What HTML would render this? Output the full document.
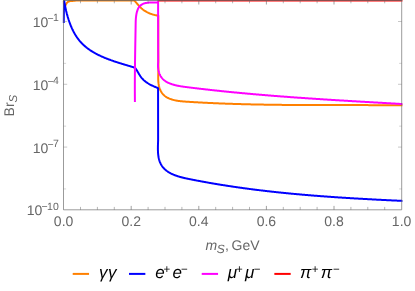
<!DOCTYPE html>
<html><head><meta charset="utf-8"><title>BrS</title>
<style>
html,body{margin:0;padding:0;background:#fff;}
body{width:415px;height:291px;overflow:hidden;}
svg{display:block;will-change:transform;text-rendering:geometricPrecision;font-family:"Liberation Sans",sans-serif;}
</style></head><body>
<svg width="415" height="291" viewBox="0 0 415 291">
<rect width="415" height="291" fill="#fff"/>
<defs><clipPath id="c"><rect x="62.30" y="0" width="340.30" height="209.80"/></clipPath></defs>
<g clip-path="url(#c)">
<path d="M63.60,0.50 L63.66,0.84 L63.70,1.33 L63.74,1.93 L63.78,2.60 L63.83,3.30 L63.89,4.00 L63.98,4.66 L64.09,5.25 L64.23,5.72 L64.41,6.04 L64.64,6.18 L64.91,6.10 L65.19,5.83 L65.45,5.40 L65.71,4.89 L65.96,4.37 L66.23,3.87 L66.52,3.41 L66.83,2.99 L67.15,2.60 L67.50,2.26 L67.88,1.95 L68.29,1.69 L68.72,1.48 L69.19,1.31 L69.68,1.18 L70.20,1.08 L70.73,1.01 L71.28,0.96 L71.84,0.93 L72.40,0.91 L72.96,0.89 L73.51,0.87 L74.05,0.84 L74.57,0.79 L75.08,0.72 L75.55,0.63 L76.00,0.50 L76.00,0.50 L134.40,0.50 L134.40,0.50 L134.73,0.88 L135.05,1.27 L135.38,1.65 L135.71,2.04 L136.04,2.43 L136.37,2.82 L136.70,3.21 L137.03,3.60 L137.36,3.99 L137.70,4.38 L138.04,4.77 L138.38,5.15 L138.72,5.53 L139.07,5.91 L139.42,6.28 L139.77,6.66 L140.13,7.02 L140.50,7.38 L140.86,7.74 L141.24,8.09 L141.61,8.43 L142.00,8.77 L142.39,9.10 L142.78,9.42 L143.18,9.73 L143.59,10.03 L144.00,10.33 L144.42,10.62 L144.85,10.90 L145.28,11.17 L145.71,11.43 L146.15,11.69 L146.59,11.94 L147.04,12.18 L147.50,12.41 L147.96,12.63 L148.42,12.85 L148.89,13.06 L149.36,13.26 L149.83,13.46 L150.31,13.65 L150.79,13.83 L151.27,14.00 L151.76,14.17 L152.25,14.33 L152.74,14.48 L153.24,14.62 L153.74,14.76 L154.24,14.89 L154.74,15.02 L155.24,15.13 L155.75,15.24 L156.26,15.35 L156.77,15.45 L157.28,15.54 L157.79,15.62 L158.30,15.70 L158.30,15.70 L158.30,50.00 L158.45,70.00 L158.45,70.00 L158.43,70.45 L158.41,70.92 L158.39,71.38 L158.37,71.86 L158.35,72.34 L158.33,72.83 L158.31,73.32 L158.29,73.82 L158.27,74.32 L158.25,74.83 L158.23,75.34 L158.22,75.86 L158.21,76.38 L158.20,76.90 L158.20,77.42 L158.20,77.94 L158.21,78.47 L158.22,79.00 L158.23,79.52 L158.25,80.05 L158.27,80.58 L158.30,81.11 L158.34,81.63 L158.39,82.16 L158.44,82.68 L158.50,83.20 L158.56,83.72 L158.64,84.23 L158.72,84.74 L158.81,85.25 L158.91,85.75 L159.02,86.25 L159.15,86.74 L159.28,87.23 L159.42,87.71 L159.57,88.18 L159.74,88.65 L159.91,89.11 L160.10,89.57 L160.29,90.02 L160.50,90.45 L160.72,90.89 L160.95,91.31 L161.19,91.73 L161.44,92.13 L161.70,92.53 L161.97,92.92 L162.25,93.30 L162.54,93.67 L162.85,94.03 L163.16,94.39 L163.49,94.73 L163.82,95.06 L164.17,95.38 L164.52,95.69 L164.89,95.99 L165.27,96.28 L165.65,96.55 L166.05,96.82 L166.45,97.08 L166.87,97.33 L167.29,97.57 L167.72,97.80 L168.15,98.02 L168.59,98.23 L169.04,98.43 L169.50,98.62 L169.96,98.81 L170.42,98.99 L170.89,99.16 L171.37,99.32 L171.85,99.47 L172.33,99.62 L172.81,99.76 L173.30,99.89 L173.79,100.02 L174.29,100.14 L174.78,100.25 L175.28,100.36 L175.77,100.47 L176.27,100.56 L176.77,100.65 L177.27,100.74 L177.76,100.82 L178.26,100.90 L178.76,100.97 L179.26,101.04 L179.76,101.10 L180.26,101.16 L180.76,101.22 L181.26,101.27 L181.76,101.32 L182.26,101.37 L182.77,101.42 L183.27,101.46 L183.77,101.50 L184.27,101.54 L184.77,101.58 L185.28,101.61 L185.78,101.65 L186.28,101.68 L186.78,101.71 L187.28,101.74 L187.79,101.78 L188.29,101.81 L188.79,101.84 L189.29,101.87 L189.80,101.90 L190.30,101.93 L190.80,101.96 L191.30,101.99 L191.80,102.02 L192.31,102.05 L192.81,102.08 L193.31,102.11 L193.81,102.14 L194.32,102.17 L194.82,102.20 L195.32,102.23 L195.82,102.26 L196.32,102.29 L196.83,102.31 L197.33,102.34 L197.83,102.37 L198.33,102.40 L198.83,102.42 L199.34,102.45 L199.84,102.48 L200.34,102.51 L200.84,102.53 L201.34,102.56 L201.84,102.59 L202.35,102.61 L202.85,102.64 L203.35,102.66 L203.85,102.69 L204.35,102.71 L204.86,102.74 L205.36,102.76 L205.86,102.79 L206.36,102.81 L206.86,102.84 L207.36,102.86 L207.87,102.89 L208.37,102.91 L208.87,102.94 L209.37,102.96 L209.87,102.98 L210.37,103.01 L210.88,103.03 L211.38,103.05 L211.88,103.07 L212.38,103.10 L212.88,103.12 L213.38,103.14 L213.88,103.16 L214.39,103.19 L214.89,103.21 L215.39,103.23 L215.89,103.25 L216.39,103.27 L216.89,103.29 L217.39,103.31 L217.90,103.33 L218.40,103.36 L218.90,103.38 L219.40,103.40 L219.90,103.42 L220.40,103.44 L220.90,103.46 L221.41,103.48 L221.91,103.50 L222.41,103.51 L222.91,103.53 L223.41,103.55 L223.91,103.57 L224.41,103.59 L224.91,103.61 L225.42,103.63 L225.92,103.65 L226.42,103.66 L226.92,103.68 L227.42,103.70 L227.92,103.72 L228.42,103.73 L228.92,103.75 L229.42,103.77 L229.93,103.79 L230.43,103.80 L230.93,103.82 L231.43,103.84 L231.93,103.85 L232.43,103.87 L232.93,103.89 L233.43,103.90 L233.93,103.92 L234.44,103.93 L234.94,103.95 L235.44,103.96 L235.94,103.98 L236.44,103.99 L236.94,104.01 L237.44,104.02 L237.94,104.04 L238.44,104.05 L238.94,104.07 L239.45,104.08 L239.95,104.10 L240.45,104.11 L240.95,104.12 L241.45,104.14 L241.95,104.15 L242.45,104.17 L242.95,104.18 L243.45,104.19 L243.95,104.21 L244.45,104.22 L244.95,104.23 L245.46,104.24 L245.96,104.26 L246.46,104.27 L246.96,104.28 L247.46,104.29 L247.96,104.31 L248.46,104.32 L248.96,104.33 L249.46,104.34 L249.96,104.35 L250.46,104.37 L250.96,104.38 L251.46,104.39 L251.97,104.40 L252.47,104.41 L252.97,104.42 L253.47,104.43 L253.97,104.44 L254.47,104.45 L254.97,104.46 L255.47,104.47 L255.97,104.48 L256.47,104.49 L256.97,104.50 L257.47,104.51 L257.97,104.52 L258.47,104.53 L258.98,104.54 L259.48,104.55 L259.98,104.56 L260.48,104.57 L260.98,104.58 L261.48,104.59 L261.98,104.60 L262.48,104.61 L262.98,104.62 L263.48,104.62 L263.98,104.63 L264.48,104.64 L264.98,104.65 L265.48,104.66 L265.98,104.67 L266.48,104.67 L266.98,104.68 L267.48,104.69 L267.99,104.70 L268.49,104.71 L268.99,104.71 L269.49,104.72 L269.99,104.73 L270.49,104.73 L270.99,104.74 L271.49,104.75 L271.99,104.76 L272.49,104.76 L272.99,104.77 L273.49,104.78 L273.99,104.78 L274.49,104.79 L274.99,104.80 L275.49,104.80 L275.99,104.81 L276.49,104.81 L276.99,104.82 L277.49,104.83 L278.00,104.83 L278.50,104.84 L279.00,104.84 L279.50,104.85 L280.00,104.85 L280.50,104.86 L281.00,104.87 L281.50,104.87 L282.00,104.88 L282.50,104.88 L283.00,104.89 L283.50,104.89 L284.00,104.90 L284.50,104.90 L285.00,104.90 L285.50,104.91 L286.00,104.91 L286.50,104.92 L287.00,104.92 L287.50,104.93 L288.00,104.93 L288.50,104.94 L289.00,104.94 L289.50,104.94 L290.01,104.95 L290.51,104.95 L291.01,104.96 L291.51,104.96 L292.01,104.96 L292.51,104.97 L293.01,104.97 L293.51,104.97 L294.01,104.98 L294.51,104.98 L295.01,104.98 L295.51,104.99 L296.01,104.99 L296.51,104.99 L297.01,105.00 L297.51,105.00 L298.01,105.00 L298.51,105.01 L299.01,105.01 L299.51,105.01 L300.01,105.01 L300.51,105.02 L301.01,105.02 L301.51,105.02 L302.01,105.02 L302.51,105.03 L303.01,105.03 L303.52,105.03 L304.02,105.03 L304.52,105.04 L305.02,105.04 L305.52,105.04 L306.02,105.04 L306.52,105.04 L307.02,105.05 L307.52,105.05 L308.02,105.05 L308.52,105.05 L309.02,105.05 L309.52,105.06 L310.02,105.06 L310.52,105.06 L311.02,105.06 L311.52,105.06 L312.02,105.06 L312.52,105.06 L313.02,105.07 L313.52,105.07 L314.02,105.07 L314.52,105.07 L315.02,105.07 L315.52,105.07 L316.03,105.07 L316.53,105.08 L317.03,105.08 L317.53,105.08 L318.03,105.08 L318.53,105.08 L319.03,105.08 L319.53,105.08 L320.03,105.08 L320.53,105.08 L321.03,105.08 L321.53,105.09 L322.03,105.09 L322.53,105.09 L323.03,105.09 L323.53,105.09 L324.03,105.09 L324.53,105.09 L325.03,105.09 L325.53,105.09 L326.03,105.09 L326.53,105.09 L327.03,105.09 L327.54,105.09 L328.04,105.09 L328.54,105.09 L329.04,105.09 L329.54,105.10 L330.04,105.10 L330.54,105.10 L331.04,105.10 L331.54,105.10 L332.04,105.10 L332.54,105.10 L333.04,105.10 L333.54,105.10 L334.04,105.10 L334.54,105.10 L335.04,105.10 L335.54,105.10 L336.04,105.10 L336.55,105.10 L337.05,105.10 L337.55,105.10 L338.05,105.10 L338.55,105.10 L339.05,105.10 L339.55,105.10 L340.05,105.10 L340.55,105.10 L341.05,105.10 L341.55,105.10 L342.05,105.10 L342.55,105.10 L343.05,105.10 L343.55,105.10 L344.05,105.10 L344.56,105.10 L345.06,105.10 L345.56,105.10 L346.06,105.10 L346.56,105.10 L347.06,105.10 L347.56,105.10 L348.06,105.11 L348.56,105.11 L349.06,105.11 L349.56,105.11 L350.06,105.11 L350.56,105.11 L351.06,105.11 L351.57,105.11 L352.07,105.11 L352.57,105.11 L353.07,105.11 L353.57,105.11 L354.07,105.11 L354.57,105.11 L355.07,105.11 L355.57,105.11 L356.07,105.11 L356.57,105.11 L357.07,105.11 L357.58,105.11 L358.08,105.11 L358.58,105.11 L359.08,105.11 L359.58,105.11 L360.08,105.11 L360.58,105.11 L361.08,105.11 L361.58,105.12 L362.08,105.12 L362.58,105.12 L363.09,105.12 L363.59,105.12 L364.09,105.12 L364.59,105.12 L365.09,105.12 L365.59,105.12 L366.09,105.12 L366.59,105.12 L367.09,105.12 L367.59,105.12 L368.10,105.12 L368.60,105.13 L369.10,105.13 L369.60,105.13 L370.10,105.13 L370.60,105.13 L371.10,105.13 L371.60,105.13 L372.11,105.13 L372.61,105.13 L373.11,105.14 L373.61,105.14 L374.11,105.14 L374.61,105.14 L375.11,105.14 L375.61,105.14 L376.11,105.14 L376.62,105.15 L377.12,105.15 L377.62,105.15 L378.12,105.15 L378.62,105.15 L379.12,105.15 L379.62,105.16 L380.13,105.16 L380.63,105.16 L381.13,105.16 L381.63,105.16 L382.13,105.17 L382.63,105.17 L383.13,105.17 L383.64,105.17 L384.14,105.17 L384.64,105.18 L385.14,105.18 L385.64,105.18 L386.14,105.18 L386.64,105.19 L387.15,105.19 L387.65,105.19 L388.15,105.19 L388.65,105.20 L389.15,105.20 L389.65,105.20 L390.16,105.21 L390.66,105.21 L391.16,105.21 L391.66,105.22 L392.16,105.22 L392.66,105.22 L393.17,105.22 L393.67,105.23 L394.17,105.23 L394.67,105.24 L395.17,105.24 L395.67,105.24 L396.18,105.25 L396.68,105.25 L397.18,105.25 L397.68,105.26 L398.18,105.26 L398.68,105.27 L399.19,105.27 L399.69,105.27 L400.19,105.28 L400.69,105.28 L401.19,105.29 L401.70,105.29 L402.20,105.30 L402.70,105.30" fill="none" stroke="#ff8000" stroke-width="2" stroke-linejoin="round" stroke-linecap="butt"/>
<path d="M63.75,22.90 L63.95,3.00 L64.20,0.90 L64.20,0.90 L64.28,1.38 L64.36,1.86 L64.44,2.34 L64.53,2.82 L64.61,3.30 L64.70,3.79 L64.79,4.27 L64.88,4.76 L64.97,5.25 L65.06,5.73 L65.16,6.22 L65.26,6.71 L65.36,7.21 L65.46,7.70 L65.56,8.19 L65.67,8.68 L65.78,9.18 L65.89,9.67 L66.00,10.16 L66.11,10.66 L66.23,11.15 L66.35,11.65 L66.47,12.14 L66.59,12.64 L66.71,13.14 L66.84,13.63 L66.97,14.13 L67.10,14.62 L67.24,15.12 L67.37,15.61 L67.51,16.10 L67.65,16.60 L67.80,17.09 L67.94,17.58 L68.09,18.08 L68.24,18.57 L68.40,19.06 L68.56,19.55 L68.71,20.04 L68.88,20.53 L69.04,21.01 L69.21,21.50 L69.38,21.99 L69.55,22.47 L69.73,22.95 L69.91,23.43 L70.09,23.91 L70.27,24.39 L70.46,24.87 L70.65,25.35 L70.84,25.82 L71.04,26.29 L71.24,26.76 L71.44,27.23 L71.64,27.70 L71.85,28.16 L72.06,28.63 L72.28,29.09 L72.49,29.55 L72.72,30.00 L72.94,30.46 L73.17,30.91 L73.40,31.36 L73.63,31.81 L73.87,32.25 L74.11,32.69 L74.35,33.13 L74.60,33.57 L74.85,34.01 L75.11,34.44 L75.36,34.87 L75.63,35.29 L75.89,35.71 L76.16,36.13 L76.43,36.55 L76.71,36.96 L76.99,37.37 L77.27,37.78 L77.56,38.18 L77.85,38.58 L78.14,38.98 L78.44,39.37 L78.74,39.76 L79.05,40.15 L79.36,40.53 L79.67,40.91 L79.99,41.28 L80.31,41.65 L80.64,42.02 L80.97,42.38 L81.30,42.74 L81.64,43.10 L81.98,43.45 L82.32,43.80 L82.67,44.14 L83.02,44.48 L83.38,44.82 L83.74,45.15 L84.10,45.48 L84.47,45.81 L84.84,46.13 L85.21,46.45 L85.58,46.76 L85.96,47.08 L86.35,47.38 L86.73,47.69 L87.12,47.99 L87.51,48.29 L87.90,48.59 L88.30,48.88 L88.70,49.17 L89.11,49.45 L89.51,49.74 L89.92,50.02 L90.33,50.29 L90.75,50.57 L91.16,50.84 L91.58,51.11 L92.00,51.37 L92.43,51.64 L92.85,51.90 L93.28,52.15 L93.71,52.41 L94.15,52.66 L94.58,52.91 L95.02,53.15 L95.46,53.39 L95.90,53.64 L96.35,53.87 L96.80,54.11 L97.24,54.34 L97.69,54.57 L98.15,54.80 L98.60,55.03 L99.06,55.25 L99.51,55.47 L99.97,55.69 L100.43,55.91 L100.90,56.12 L101.36,56.33 L101.83,56.54 L102.29,56.75 L102.76,56.96 L103.23,57.16 L103.70,57.36 L104.17,57.56 L104.65,57.76 L105.12,57.96 L105.60,58.15 L106.08,58.34 L106.55,58.53 L107.03,58.72 L107.51,58.91 L107.99,59.09 L108.47,59.27 L108.96,59.46 L109.44,59.64 L109.92,59.81 L110.41,59.99 L110.89,60.17 L111.38,60.34 L111.87,60.51 L112.35,60.68 L112.84,60.85 L113.33,61.02 L113.81,61.19 L114.30,61.35 L114.79,61.52 L115.28,61.68 L115.77,61.84 L116.26,62.00 L116.75,62.16 L117.23,62.32 L117.72,62.47 L118.21,62.63 L118.70,62.79 L119.19,62.94 L119.68,63.09 L120.17,63.25 L120.65,63.40 L121.14,63.55 L121.63,63.70 L122.11,63.85 L122.60,63.99 L123.08,64.14 L123.57,64.29 L124.05,64.44 L124.54,64.58 L125.02,64.73 L125.50,64.87 L125.98,65.01 L126.46,65.16 L126.94,65.30 L127.42,65.44 L127.90,65.59 L128.37,65.73 L128.85,65.87 L129.32,66.01 L129.79,66.15 L130.27,66.29 L130.74,66.43 L131.20,66.58 L131.67,66.72 L132.14,66.86 L132.60,67.00 L133.06,67.14 L133.53,67.28 L133.99,67.42 L134.44,67.56 L134.90,67.70 L134.90,67.70 L135.23,68.09 L135.54,68.48 L135.84,68.89 L136.13,69.30 L136.42,69.73 L136.69,70.15 L136.96,70.59 L137.23,71.03 L137.49,71.47 L137.75,71.91 L138.01,72.36 L138.27,72.80 L138.54,73.25 L138.80,73.69 L139.07,74.14 L139.34,74.58 L139.61,75.01 L139.89,75.45 L140.17,75.87 L140.46,76.30 L140.76,76.72 L141.06,77.13 L141.37,77.53 L141.69,77.93 L142.02,78.32 L142.36,78.70 L142.70,79.07 L143.06,79.43 L143.42,79.79 L143.79,80.14 L144.17,80.48 L144.56,80.81 L144.95,81.14 L145.35,81.46 L145.75,81.77 L146.17,82.08 L146.58,82.37 L147.01,82.67 L147.44,82.95 L147.87,83.23 L148.31,83.50 L148.75,83.77 L149.20,84.03 L149.65,84.29 L150.10,84.54 L150.56,84.78 L151.02,85.02 L151.48,85.26 L151.95,85.49 L152.41,85.71 L152.88,85.93 L153.35,86.15 L153.82,86.36 L154.30,86.57 L154.77,86.77 L155.24,86.97 L155.72,87.17 L156.19,87.36 L156.66,87.55 L157.13,87.74 L157.60,87.92 L158.07,88.10 L158.07,88.10 L158.12,140.00 L158.12,140.00 L158.11,140.46 L158.10,140.92 L158.08,141.39 L158.07,141.87 L158.05,142.35 L158.03,142.83 L158.02,143.32 L158.00,143.82 L157.98,144.31 L157.97,144.82 L157.95,145.32 L157.94,145.83 L157.93,146.34 L157.92,146.86 L157.92,147.37 L157.91,147.89 L157.91,148.41 L157.91,148.94 L157.91,149.46 L157.92,149.98 L157.94,150.51 L157.95,151.03 L157.97,151.56 L158.00,152.08 L158.03,152.61 L158.06,153.13 L158.10,153.65 L158.15,154.17 L158.20,154.69 L158.26,155.21 L158.33,155.72 L158.40,156.23 L158.48,156.74 L158.57,157.25 L158.67,157.75 L158.77,158.25 L158.88,158.74 L159.00,159.23 L159.13,159.72 L159.27,160.20 L159.42,160.67 L159.58,161.14 L159.74,161.61 L159.92,162.06 L160.10,162.52 L160.30,162.96 L160.50,163.40 L160.72,163.84 L160.94,164.26 L161.17,164.69 L161.42,165.10 L161.67,165.51 L161.93,165.91 L162.20,166.30 L162.48,166.68 L162.78,167.06 L163.08,167.43 L163.39,167.79 L163.71,168.14 L164.04,168.49 L164.37,168.83 L164.72,169.16 L165.07,169.49 L165.44,169.80 L165.80,170.12 L166.18,170.42 L166.56,170.72 L166.96,171.01 L167.35,171.29 L167.76,171.57 L168.16,171.84 L168.58,172.11 L169.00,172.36 L169.43,172.62 L169.86,172.86 L170.29,173.10 L170.73,173.34 L171.18,173.57 L171.62,173.79 L172.07,174.01 L172.53,174.22 L172.99,174.43 L173.45,174.63 L173.91,174.82 L174.38,175.01 L174.85,175.20 L175.32,175.38 L175.79,175.55 L176.26,175.72 L176.74,175.89 L177.21,176.05 L177.69,176.21 L178.17,176.36 L178.65,176.51 L179.13,176.66 L179.61,176.80 L180.10,176.94 L180.58,177.07 L181.07,177.20 L181.55,177.33 L182.04,177.46 L182.53,177.58 L183.02,177.70 L183.51,177.81 L184.00,177.93 L184.49,178.04 L184.98,178.15 L185.47,178.26 L185.96,178.37 L186.46,178.48 L186.95,178.58 L187.45,178.68 L187.94,178.78 L188.43,178.89 L188.93,178.99 L189.42,179.09 L189.92,179.18 L190.41,179.28 L190.91,179.38 L191.40,179.48 L191.90,179.58 L192.39,179.68 L192.89,179.77 L193.38,179.87 L193.88,179.97 L194.37,180.06 L194.86,180.16 L195.36,180.25 L195.85,180.35 L196.35,180.44 L196.84,180.54 L197.34,180.63 L197.83,180.73 L198.33,180.82 L198.82,180.91 L199.32,181.01 L199.81,181.10 L200.31,181.19 L200.80,181.28 L201.30,181.38 L201.79,181.47 L202.29,181.56 L202.79,181.65 L203.28,181.74 L203.78,181.83 L204.27,181.92 L204.77,182.01 L205.26,182.10 L205.76,182.19 L206.25,182.28 L206.75,182.37 L207.24,182.46 L207.74,182.54 L208.23,182.63 L208.73,182.72 L209.22,182.81 L209.72,182.89 L210.21,182.98 L210.71,183.06 L211.21,183.15 L211.70,183.24 L212.20,183.32 L212.69,183.41 L213.19,183.49 L213.68,183.58 L214.18,183.66 L214.67,183.74 L215.17,183.83 L215.67,183.91 L216.16,183.99 L216.66,184.08 L217.15,184.16 L217.65,184.24 L218.14,184.32 L218.64,184.40 L219.14,184.49 L219.63,184.57 L220.13,184.65 L220.62,184.73 L221.12,184.81 L221.61,184.89 L222.11,184.97 L222.61,185.05 L223.10,185.13 L223.60,185.20 L224.09,185.28 L224.59,185.36 L225.09,185.44 L225.58,185.52 L226.08,185.59 L226.57,185.67 L227.07,185.75 L227.57,185.82 L228.06,185.90 L228.56,185.98 L229.05,186.05 L229.55,186.13 L230.05,186.20 L230.54,186.28 L231.04,186.35 L231.53,186.43 L232.03,186.50 L232.53,186.58 L233.02,186.65 L233.52,186.72 L234.02,186.80 L234.51,186.87 L235.01,186.94 L235.50,187.01 L236.00,187.09 L236.50,187.16 L236.99,187.23 L237.49,187.30 L237.99,187.37 L238.48,187.44 L238.98,187.51 L239.48,187.58 L239.97,187.65 L240.47,187.72 L240.97,187.79 L241.46,187.86 L241.96,187.93 L242.46,188.00 L242.95,188.07 L243.45,188.14 L243.95,188.20 L244.44,188.27 L244.94,188.34 L245.44,188.41 L245.93,188.47 L246.43,188.54 L246.93,188.61 L247.42,188.67 L247.92,188.74 L248.42,188.81 L248.91,188.87 L249.41,188.94 L249.91,189.00 L250.40,189.07 L250.90,189.13 L251.40,189.20 L251.89,189.26 L252.39,189.32 L252.89,189.39 L253.38,189.45 L253.88,189.51 L254.38,189.58 L254.88,189.64 L255.37,189.70 L255.87,189.76 L256.37,189.83 L256.86,189.89 L257.36,189.95 L257.86,190.01 L258.35,190.07 L258.85,190.13 L259.35,190.19 L259.85,190.25 L260.34,190.32 L260.84,190.38 L261.34,190.43 L261.84,190.49 L262.33,190.55 L262.83,190.61 L263.33,190.67 L263.82,190.73 L264.32,190.79 L264.82,190.85 L265.32,190.91 L265.81,190.96 L266.31,191.02 L266.81,191.08 L267.31,191.13 L267.80,191.19 L268.30,191.25 L268.80,191.30 L269.30,191.36 L269.79,191.42 L270.29,191.47 L270.79,191.53 L271.29,191.58 L271.78,191.64 L272.28,191.69 L272.78,191.75 L273.28,191.80 L273.77,191.86 L274.27,191.91 L274.77,191.97 L275.27,192.02 L275.77,192.07 L276.26,192.13 L276.76,192.18 L277.26,192.23 L277.76,192.29 L278.25,192.34 L278.75,192.39 L279.25,192.44 L279.75,192.49 L280.25,192.55 L280.74,192.60 L281.24,192.65 L281.74,192.70 L282.24,192.75 L282.73,192.80 L283.23,192.85 L283.73,192.90 L284.23,192.95 L284.73,193.00 L285.22,193.05 L285.72,193.10 L286.22,193.15 L286.72,193.20 L287.22,193.25 L287.72,193.30 L288.21,193.35 L288.71,193.40 L289.21,193.44 L289.71,193.49 L290.21,193.54 L290.70,193.59 L291.20,193.64 L291.70,193.68 L292.20,193.73 L292.70,193.78 L293.20,193.82 L293.69,193.87 L294.19,193.92 L294.69,193.96 L295.19,194.01 L295.69,194.05 L296.19,194.10 L296.68,194.15 L297.18,194.19 L297.68,194.24 L298.18,194.28 L298.68,194.33 L299.18,194.37 L299.68,194.42 L300.17,194.46 L300.67,194.50 L301.17,194.55 L301.67,194.59 L302.17,194.64 L302.67,194.68 L303.17,194.72 L303.66,194.77 L304.16,194.81 L304.66,194.85 L305.16,194.89 L305.66,194.94 L306.16,194.98 L306.66,195.02 L307.15,195.06 L307.65,195.10 L308.15,195.15 L308.65,195.19 L309.15,195.23 L309.65,195.27 L310.15,195.31 L310.65,195.35 L311.15,195.39 L311.64,195.43 L312.14,195.47 L312.64,195.51 L313.14,195.55 L313.64,195.59 L314.14,195.63 L314.64,195.67 L315.14,195.71 L315.64,195.75 L316.14,195.79 L316.63,195.83 L317.13,195.87 L317.63,195.91 L318.13,195.95 L318.63,195.99 L319.13,196.02 L319.63,196.06 L320.13,196.10 L320.63,196.14 L321.13,196.18 L321.63,196.21 L322.13,196.25 L322.62,196.29 L323.12,196.32 L323.62,196.36 L324.12,196.40 L324.62,196.44 L325.12,196.47 L325.62,196.51 L326.12,196.54 L326.62,196.58 L327.12,196.62 L327.62,196.65 L328.12,196.69 L328.62,196.72 L329.12,196.76 L329.62,196.80 L330.11,196.83 L330.61,196.87 L331.11,196.90 L331.61,196.94 L332.11,196.97 L332.61,197.00 L333.11,197.04 L333.61,197.07 L334.11,197.11 L334.61,197.14 L335.11,197.18 L335.61,197.21 L336.11,197.24 L336.61,197.28 L337.11,197.31 L337.61,197.34 L338.11,197.38 L338.61,197.41 L339.11,197.44 L339.61,197.48 L340.11,197.51 L340.61,197.54 L341.11,197.57 L341.61,197.61 L342.11,197.64 L342.61,197.67 L343.11,197.70 L343.61,197.73 L344.11,197.77 L344.61,197.80 L345.11,197.83 L345.61,197.86 L346.11,197.89 L346.61,197.92 L347.11,197.96 L347.61,197.99 L348.11,198.02 L348.61,198.05 L349.11,198.08 L349.61,198.11 L350.11,198.14 L350.61,198.17 L351.11,198.20 L351.61,198.23 L352.11,198.26 L352.61,198.29 L353.11,198.32 L353.61,198.35 L354.11,198.38 L354.61,198.41 L355.11,198.44 L355.61,198.47 L356.11,198.50 L356.61,198.53 L357.11,198.56 L357.61,198.59 L358.11,198.62 L358.61,198.64 L359.11,198.67 L359.61,198.70 L360.11,198.73 L360.61,198.76 L361.11,198.79 L361.61,198.82 L362.11,198.84 L362.61,198.87 L363.11,198.90 L363.62,198.93 L364.12,198.96 L364.62,198.98 L365.12,199.01 L365.62,199.04 L366.12,199.07 L366.62,199.09 L367.12,199.12 L367.62,199.15 L368.12,199.18 L368.62,199.20 L369.12,199.23 L369.62,199.26 L370.12,199.28 L370.62,199.31 L371.12,199.34 L371.63,199.36 L372.13,199.39 L372.63,199.42 L373.13,199.44 L373.63,199.47 L374.13,199.50 L374.63,199.52 L375.13,199.55 L375.63,199.58 L376.13,199.60 L376.63,199.63 L377.13,199.65 L377.64,199.68 L378.14,199.70 L378.64,199.73 L379.14,199.76 L379.64,199.78 L380.14,199.81 L380.64,199.83 L381.14,199.86 L381.64,199.88 L382.14,199.91 L382.65,199.93 L383.15,199.96 L383.65,199.98 L384.15,200.01 L384.65,200.03 L385.15,200.06 L385.65,200.08 L386.15,200.11 L386.65,200.13 L387.16,200.16 L387.66,200.18 L388.16,200.21 L388.66,200.23 L389.16,200.26 L389.66,200.28 L390.16,200.30 L390.66,200.33 L391.17,200.35 L391.67,200.38 L392.17,200.40 L392.67,200.43 L393.17,200.45 L393.67,200.47 L394.17,200.50 L394.68,200.52 L395.18,200.55 L395.68,200.57 L396.18,200.59 L396.68,200.62 L397.18,200.64 L397.68,200.67 L398.19,200.69 L398.69,200.71 L399.19,200.74 L399.69,200.76 L400.19,200.78 L400.69,200.81 L401.20,200.83 L401.70,200.85 L402.20,200.88 L402.70,200.90" fill="none" stroke="#0000ff" stroke-width="2" stroke-linejoin="round" stroke-linecap="butt"/>
<path d="M134.92,101.90 L134.91,101.39 L134.91,100.89 L134.90,100.38 L134.90,99.88 L134.89,99.37 L134.89,98.87 L134.88,98.36 L134.88,97.86 L134.88,97.35 L134.87,96.85 L134.87,96.34 L134.86,95.84 L134.86,95.33 L134.86,94.83 L134.86,94.33 L134.85,93.82 L134.85,93.32 L134.85,92.81 L134.85,92.31 L134.84,91.80 L134.84,91.30 L134.84,90.80 L134.84,90.29 L134.84,89.79 L134.84,89.29 L134.84,88.78 L134.84,88.28 L134.84,87.77 L134.84,87.27 L134.84,86.77 L134.84,86.26 L134.84,85.76 L134.84,85.26 L134.84,84.75 L134.84,84.25 L134.84,83.75 L134.84,83.24 L134.84,82.74 L134.85,82.24 L134.85,81.73 L134.85,81.23 L134.85,80.73 L134.85,80.23 L134.86,79.72 L134.86,79.22 L134.86,78.72 L134.86,78.21 L134.87,77.71 L134.87,77.21 L134.87,76.71 L134.88,76.20 L134.88,75.70 L134.88,75.20 L134.89,74.69 L134.89,74.19 L134.90,73.69 L134.90,73.19 L134.90,72.68 L134.91,72.18 L134.91,71.68 L134.92,71.18 L134.92,70.67 L134.93,70.17 L134.93,69.67 L134.94,69.17 L134.94,68.66 L134.95,68.16 L134.95,67.66 L134.96,67.16 L134.96,66.66 L134.97,66.15 L134.98,65.65 L134.98,65.15 L134.99,64.65 L134.99,64.14 L135.00,63.64 L135.01,63.14 L135.01,62.64 L135.02,62.13 L135.03,61.63 L135.03,61.13 L135.04,60.63 L135.05,60.12 L135.05,59.62 L135.06,59.12 L135.07,58.62 L135.08,58.11 L135.08,57.61 L135.09,57.11 L135.10,56.61 L135.11,56.10 L135.11,55.60 L135.12,55.10 L135.13,54.59 L135.14,54.09 L135.15,53.59 L135.15,53.09 L135.16,52.58 L135.17,52.08 L135.18,51.58 L135.19,51.08 L135.19,50.57 L135.20,50.07 L135.21,49.57 L135.22,49.06 L135.23,48.56 L135.24,48.06 L135.24,47.55 L135.25,47.05 L135.26,46.55 L135.27,46.04 L135.28,45.54 L135.29,45.04 L135.30,44.53 L135.30,44.03 L135.31,43.53 L135.32,43.02 L135.33,42.52 L135.34,42.02 L135.35,41.51 L135.36,41.01 L135.37,40.50 L135.38,40.00 L135.38,39.50 L135.39,38.99 L135.40,38.49 L135.41,37.98 L135.42,37.48 L135.43,36.98 L135.44,36.47 L135.45,35.97 L135.46,35.46 L135.46,34.96 L135.47,34.45 L135.48,33.95 L135.49,33.44 L135.50,32.94 L135.51,32.43 L135.52,31.93 L135.53,31.42 L135.54,30.92 L135.54,30.41 L135.55,29.91 L135.56,29.40 L135.57,28.90 L135.58,28.39 L135.59,27.88 L135.60,27.38 L135.61,26.87 L135.61,26.37 L135.62,25.86 L135.63,25.35 L135.64,24.85 L135.65,24.34 L135.66,23.84 L135.67,23.33 L135.68,22.82 L135.69,22.32 L135.70,21.81 L135.72,21.31 L135.74,20.80 L135.76,20.29 L135.79,19.79 L135.82,19.29 L135.85,18.78 L135.89,18.28 L135.93,17.78 L135.98,17.28 L136.04,16.78 L136.10,16.28 L136.16,15.78 L136.24,15.28 L136.32,14.79 L136.40,14.29 L136.50,13.80 L136.60,13.30 L136.71,12.81 L136.84,12.32 L136.97,11.83 L137.11,11.34 L137.26,10.86 L137.42,10.38 L137.59,9.90 L137.78,9.43 L137.98,8.97 L138.19,8.52 L138.42,8.08 L138.67,7.65 L138.94,7.23 L139.22,6.83 L139.52,6.45 L139.84,6.09 L140.19,5.75 L140.55,5.42 L140.92,5.12 L141.32,4.83 L141.73,4.56 L142.15,4.31 L142.58,4.08 L143.03,3.87 L143.49,3.68 L143.96,3.50 L144.44,3.35 L144.92,3.21 L145.41,3.08 L145.91,2.98 L146.41,2.89 L146.92,2.81 L147.43,2.74 L147.95,2.69 L148.47,2.64 L148.99,2.61 L149.52,2.58 L150.04,2.56 L150.57,2.55 L151.09,2.54 L151.62,2.53 L152.14,2.53 L152.66,2.53 L153.18,2.53 L153.69,2.52 L154.20,2.52 L154.71,2.51 L155.21,2.50 L155.71,2.49 L156.20,2.47 L156.68,2.44 L157.16,2.40 L157.63,2.36 L158.10,2.30 L158.10,1.00 L158.15,40.00 L158.20,62.00 L158.20,62.00 L158.14,62.51 L158.09,63.02 L158.05,63.53 L158.03,64.05 L158.01,64.56 L158.00,65.08 L158.00,65.60 L158.01,66.12 L158.03,66.64 L158.06,67.15 L158.10,67.67 L158.15,68.18 L158.22,68.70 L158.29,69.21 L158.37,69.71 L158.47,70.22 L158.57,70.72 L158.69,71.21 L158.82,71.70 L158.96,72.19 L159.11,72.67 L159.27,73.14 L159.44,73.61 L159.62,74.07 L159.82,74.53 L160.03,74.97 L160.25,75.41 L160.48,75.84 L160.72,76.26 L160.97,76.67 L161.24,77.07 L161.52,77.46 L161.81,77.84 L162.11,78.21 L162.42,78.57 L162.75,78.92 L163.08,79.25 L163.43,79.58 L163.79,79.89 L164.15,80.20 L164.53,80.49 L164.92,80.78 L165.31,81.06 L165.71,81.32 L166.12,81.58 L166.54,81.83 L166.96,82.07 L167.40,82.31 L167.83,82.53 L168.27,82.75 L168.72,82.96 L169.18,83.16 L169.63,83.35 L170.09,83.54 L170.56,83.72 L171.03,83.90 L171.50,84.06 L171.97,84.23 L172.45,84.38 L172.93,84.53 L173.41,84.68 L173.89,84.81 L174.37,84.95 L174.85,85.08 L175.34,85.20 L175.83,85.32 L176.31,85.43 L176.80,85.54 L177.29,85.65 L177.78,85.75 L178.27,85.85 L178.76,85.95 L179.26,86.04 L179.75,86.13 L180.24,86.21 L180.74,86.29 L181.24,86.37 L181.73,86.45 L182.23,86.53 L182.73,86.60 L183.23,86.67 L183.72,86.74 L184.22,86.81 L184.72,86.88 L185.22,86.94 L185.72,87.01 L186.22,87.07 L186.72,87.13 L187.22,87.20 L187.72,87.26 L188.22,87.32 L188.72,87.38 L189.22,87.45 L189.72,87.51 L190.22,87.57 L190.72,87.63 L191.22,87.69 L191.72,87.75 L192.22,87.81 L192.72,87.87 L193.22,87.93 L193.72,88.00 L194.22,88.06 L194.72,88.12 L195.22,88.18 L195.72,88.24 L196.22,88.29 L196.72,88.35 L197.22,88.41 L197.72,88.47 L198.22,88.53 L198.72,88.59 L199.22,88.65 L199.72,88.71 L200.22,88.77 L200.72,88.82 L201.22,88.88 L201.72,88.94 L202.22,89.00 L202.72,89.06 L203.21,89.11 L203.71,89.17 L204.21,89.23 L204.71,89.28 L205.21,89.34 L205.71,89.40 L206.21,89.45 L206.71,89.51 L207.21,89.57 L207.71,89.62 L208.21,89.68 L208.71,89.73 L209.21,89.79 L209.71,89.84 L210.21,89.90 L210.71,89.95 L211.21,90.01 L211.71,90.06 L212.21,90.12 L212.71,90.17 L213.21,90.23 L213.71,90.28 L214.21,90.34 L214.71,90.39 L215.21,90.44 L215.71,90.50 L216.21,90.55 L216.71,90.60 L217.21,90.66 L217.70,90.71 L218.20,90.76 L218.70,90.82 L219.20,90.87 L219.70,90.92 L220.20,90.97 L220.70,91.03 L221.20,91.08 L221.70,91.13 L222.20,91.18 L222.70,91.23 L223.20,91.28 L223.70,91.34 L224.20,91.39 L224.70,91.44 L225.20,91.49 L225.70,91.54 L226.20,91.59 L226.70,91.64 L227.20,91.69 L227.70,91.74 L228.20,91.79 L228.69,91.84 L229.19,91.89 L229.69,91.94 L230.19,91.99 L230.69,92.04 L231.19,92.09 L231.69,92.14 L232.19,92.19 L232.69,92.24 L233.19,92.28 L233.69,92.33 L234.19,92.38 L234.69,92.43 L235.19,92.48 L235.69,92.53 L236.19,92.57 L236.69,92.62 L237.19,92.67 L237.69,92.72 L238.18,92.76 L238.68,92.81 L239.18,92.86 L239.68,92.91 L240.18,92.95 L240.68,93.00 L241.18,93.05 L241.68,93.09 L242.18,93.14 L242.68,93.19 L243.18,93.23 L243.68,93.28 L244.18,93.32 L244.68,93.37 L245.18,93.42 L245.68,93.46 L246.18,93.51 L246.68,93.55 L247.17,93.60 L247.67,93.64 L248.17,93.69 L248.67,93.73 L249.17,93.78 L249.67,93.82 L250.17,93.87 L250.67,93.91 L251.17,93.96 L251.67,94.00 L252.17,94.04 L252.67,94.09 L253.17,94.13 L253.67,94.18 L254.17,94.22 L254.67,94.26 L255.17,94.31 L255.66,94.35 L256.16,94.39 L256.66,94.44 L257.16,94.48 L257.66,94.52 L258.16,94.56 L258.66,94.61 L259.16,94.65 L259.66,94.69 L260.16,94.73 L260.66,94.78 L261.16,94.82 L261.66,94.86 L262.16,94.90 L262.66,94.94 L263.16,94.99 L263.66,95.03 L264.15,95.07 L264.65,95.11 L265.15,95.15 L265.65,95.19 L266.15,95.23 L266.65,95.27 L267.15,95.31 L267.65,95.36 L268.15,95.40 L268.65,95.44 L269.15,95.48 L269.65,95.52 L270.15,95.56 L270.65,95.60 L271.15,95.64 L271.65,95.68 L272.15,95.72 L272.64,95.76 L273.14,95.80 L273.64,95.84 L274.14,95.88 L274.64,95.92 L275.14,95.95 L275.64,95.99 L276.14,96.03 L276.64,96.07 L277.14,96.11 L277.64,96.15 L278.14,96.19 L278.64,96.23 L279.14,96.27 L279.64,96.30 L280.14,96.34 L280.64,96.38 L281.14,96.42 L281.63,96.46 L282.13,96.49 L282.63,96.53 L283.13,96.57 L283.63,96.61 L284.13,96.65 L284.63,96.68 L285.13,96.72 L285.63,96.76 L286.13,96.79 L286.63,96.83 L287.13,96.87 L287.63,96.91 L288.13,96.94 L288.63,96.98 L289.13,97.02 L289.63,97.05 L290.13,97.09 L290.63,97.13 L291.13,97.16 L291.62,97.20 L292.12,97.24 L292.62,97.27 L293.12,97.31 L293.62,97.34 L294.12,97.38 L294.62,97.42 L295.12,97.45 L295.62,97.49 L296.12,97.52 L296.62,97.56 L297.12,97.59 L297.62,97.63 L298.12,97.66 L298.62,97.70 L299.12,97.73 L299.62,97.77 L300.12,97.81 L300.62,97.84 L301.12,97.87 L301.62,97.91 L302.12,97.94 L302.62,97.98 L303.11,98.01 L303.61,98.05 L304.11,98.08 L304.61,98.12 L305.11,98.15 L305.61,98.19 L306.11,98.22 L306.61,98.25 L307.11,98.29 L307.61,98.32 L308.11,98.36 L308.61,98.39 L309.11,98.42 L309.61,98.46 L310.11,98.49 L310.61,98.52 L311.11,98.56 L311.61,98.59 L312.11,98.62 L312.61,98.66 L313.11,98.69 L313.61,98.72 L314.11,98.76 L314.61,98.79 L315.11,98.82 L315.61,98.86 L316.11,98.89 L316.61,98.92 L317.11,98.96 L317.61,98.99 L318.11,99.02 L318.61,99.05 L319.11,99.09 L319.61,99.12 L320.11,99.15 L320.60,99.18 L321.10,99.22 L321.60,99.25 L322.10,99.28 L322.60,99.31 L323.10,99.34 L323.60,99.38 L324.10,99.41 L324.60,99.44 L325.10,99.47 L325.60,99.50 L326.10,99.54 L326.60,99.57 L327.10,99.60 L327.60,99.63 L328.10,99.66 L328.60,99.69 L329.10,99.73 L329.60,99.76 L330.10,99.79 L330.60,99.82 L331.10,99.85 L331.60,99.88 L332.10,99.91 L332.60,99.94 L333.10,99.98 L333.60,100.01 L334.10,100.04 L334.60,100.07 L335.10,100.10 L335.60,100.13 L336.10,100.16 L336.60,100.19 L337.10,100.22 L337.60,100.25 L338.10,100.28 L338.60,100.31 L339.10,100.35 L339.60,100.38 L340.10,100.41 L340.60,100.44 L341.10,100.47 L341.60,100.50 L342.10,100.53 L342.60,100.56 L343.10,100.59 L343.60,100.62 L344.10,100.65 L344.60,100.68 L345.10,100.71 L345.60,100.74 L346.10,100.77 L346.61,100.80 L347.11,100.83 L347.61,100.86 L348.11,100.89 L348.61,100.92 L349.11,100.95 L349.61,100.98 L350.11,101.01 L350.61,101.04 L351.11,101.07 L351.61,101.10 L352.11,101.13 L352.61,101.16 L353.11,101.19 L353.61,101.22 L354.11,101.25 L354.61,101.28 L355.11,101.31 L355.61,101.33 L356.11,101.36 L356.61,101.39 L357.11,101.42 L357.61,101.45 L358.11,101.48 L358.61,101.51 L359.11,101.54 L359.61,101.57 L360.11,101.60 L360.62,101.63 L361.12,101.66 L361.62,101.69 L362.12,101.72 L362.62,101.74 L363.12,101.77 L363.62,101.80 L364.12,101.83 L364.62,101.86 L365.12,101.89 L365.62,101.92 L366.12,101.95 L366.62,101.98 L367.12,102.01 L367.62,102.04 L368.12,102.06 L368.62,102.09 L369.13,102.12 L369.63,102.15 L370.13,102.18 L370.63,102.21 L371.13,102.24 L371.63,102.27 L372.13,102.30 L372.63,102.32 L373.13,102.35 L373.63,102.38 L374.13,102.41 L374.63,102.44 L375.13,102.47 L375.64,102.50 L376.14,102.53 L376.64,102.55 L377.14,102.58 L377.64,102.61 L378.14,102.64 L378.64,102.67 L379.14,102.70 L379.64,102.73 L380.14,102.76 L380.64,102.78 L381.15,102.81 L381.65,102.84 L382.15,102.87 L382.65,102.90 L383.15,102.93 L383.65,102.96 L384.15,102.99 L384.65,103.01 L385.15,103.04 L385.65,103.07 L386.16,103.10 L386.66,103.13 L387.16,103.16 L387.66,103.19 L388.16,103.22 L388.66,103.24 L389.16,103.27 L389.66,103.30 L390.17,103.33 L390.67,103.36 L391.17,103.39 L391.67,103.42 L392.17,103.45 L392.67,103.47 L393.17,103.50 L393.67,103.53 L394.18,103.56 L394.68,103.59 L395.18,103.62 L395.68,103.65 L396.18,103.68 L396.68,103.70 L397.18,103.73 L397.68,103.76 L398.19,103.79 L398.69,103.82 L399.19,103.85 L399.69,103.88 L400.19,103.91 L400.69,103.93 L401.20,103.96 L401.70,103.99 L402.20,104.02 L402.70,104.05" fill="none" stroke="#ff00ff" stroke-width="2" stroke-linejoin="round" stroke-linecap="butt"/>
<path d="M158.40,0.50 L402.70,0.50" fill="none" stroke="#ff0000" stroke-width="2" stroke-linejoin="round" stroke-linecap="butt"/>
</g>
<path d="M63.50,0.00 V209.80 H401.70 V0.00" fill="none" stroke="#666" stroke-width="0.66"/>
<path d="M63.17,0.5 H402.03" fill="none" stroke="#666" stroke-width="0.76"/>
<path d="M80.50,209.80 v-2.90 M80.50,0.40 v2.90" stroke="#666" stroke-width="0.48"/>
<path d="M97.40,209.80 v-2.90 M97.40,0.40 v2.90" stroke="#666" stroke-width="0.48"/>
<path d="M114.30,209.80 v-2.90 M114.30,0.40 v2.90" stroke="#666" stroke-width="0.48"/>
<path d="M131.20,209.80 v-3.90 M131.20,0.40 v4.10" stroke="#666" stroke-width="0.62"/>
<path d="M148.10,209.80 v-2.90 M148.10,0.40 v2.90" stroke="#666" stroke-width="0.48"/>
<path d="M165.00,209.80 v-2.90 M165.00,0.40 v2.90" stroke="#666" stroke-width="0.48"/>
<path d="M181.90,209.80 v-2.90 M181.90,0.40 v2.90" stroke="#666" stroke-width="0.48"/>
<path d="M198.80,209.80 v-3.90 M198.80,0.40 v4.10" stroke="#666" stroke-width="0.62"/>
<path d="M215.70,209.80 v-2.90 M215.70,0.40 v2.90" stroke="#666" stroke-width="0.48"/>
<path d="M232.60,209.80 v-2.90 M232.60,0.40 v2.90" stroke="#666" stroke-width="0.48"/>
<path d="M249.50,209.80 v-2.90 M249.50,0.40 v2.90" stroke="#666" stroke-width="0.48"/>
<path d="M266.40,209.80 v-3.90 M266.40,0.40 v4.10" stroke="#666" stroke-width="0.62"/>
<path d="M283.30,209.80 v-2.90 M283.30,0.40 v2.90" stroke="#666" stroke-width="0.48"/>
<path d="M300.20,209.80 v-2.90 M300.20,0.40 v2.90" stroke="#666" stroke-width="0.48"/>
<path d="M317.10,209.80 v-2.90 M317.10,0.40 v2.90" stroke="#666" stroke-width="0.48"/>
<path d="M334.00,209.80 v-3.90 M334.00,0.40 v4.10" stroke="#666" stroke-width="0.62"/>
<path d="M350.90,209.80 v-2.90 M350.90,0.40 v2.90" stroke="#666" stroke-width="0.48"/>
<path d="M367.80,209.80 v-2.90 M367.80,0.40 v2.90" stroke="#666" stroke-width="0.48"/>
<path d="M384.70,209.80 v-2.90 M384.70,0.40 v2.90" stroke="#666" stroke-width="0.48"/>
<path d="M63.50,188.94 h2.60 M401.70,188.94 h-2.60" stroke="#666" stroke-width="0.28"/>
<path d="M63.50,147.08 h3.70 M401.70,147.08 h-3.70" stroke="#666" stroke-width="0.36"/>
<path d="M63.50,126.15 h2.60 M401.70,126.15 h-2.60" stroke="#666" stroke-width="0.28"/>
<path d="M63.50,84.29 h3.70 M401.70,84.29 h-3.70" stroke="#666" stroke-width="0.36"/>
<path d="M63.50,63.36 h2.60 M401.70,63.36 h-2.60" stroke="#666" stroke-width="0.28"/>
<path d="M63.50,21.50 h3.70 M401.70,21.50 h-3.70" stroke="#666" stroke-width="0.36"/>
<text x="63.60" y="226.3" text-anchor="middle" font-size="14" fill="#666">0.0</text>
<text x="131.20" y="226.3" text-anchor="middle" font-size="14" fill="#666">0.2</text>
<text x="198.80" y="226.3" text-anchor="middle" font-size="14" fill="#666">0.4</text>
<text x="266.40" y="226.3" text-anchor="middle" font-size="14" fill="#666">0.6</text>
<text x="334.00" y="226.3" text-anchor="middle" font-size="14" fill="#666">0.8</text>
<text x="401.60" y="226.3" text-anchor="middle" font-size="14" fill="#666">1.0</text>
<text x="58.8" y="27.05" text-anchor="end" font-size="14" fill="#666">10<tspan font-size="10.5" dx="-0.8" dy="-5.0">−</tspan><tspan font-size="10.5" dx="-0.6" dy="-0.9">1</tspan></text>
<text x="58.8" y="89.84" text-anchor="end" font-size="14" fill="#666">10<tspan font-size="10.5" dx="-0.8" dy="-5.0">−</tspan><tspan font-size="10.5" dx="-0.6" dy="-0.9">4</tspan></text>
<text x="58.8" y="152.63" text-anchor="end" font-size="14" fill="#666">10<tspan font-size="10.5" dx="-0.8" dy="-5.0">−</tspan><tspan font-size="10.5" dx="-0.6" dy="-0.9">7</tspan></text>
<text x="58.8" y="215.42" text-anchor="end" font-size="14" fill="#666">10<tspan font-size="10.5" dx="-0.8" dy="-5.0">−</tspan><tspan font-size="10.5" dx="-0.6" dy="-0.9">10</tspan></text>
<text y="249.5" font-size="14" fill="#666"><tspan x="205.5" font-style="italic">m</tspan><tspan font-style="italic" font-size="12" dx="-0.3" dy="3.0">S</tspan><tspan x="225.0" dy="-3.0">,</tspan><tspan x="231.5">GeV</tspan></text>
<text transform="translate(13.7,116.4) rotate(-90)" font-size="14" fill="#666">Br<tspan font-size="11.5" dy="3.3" font-style="italic">S</tspan></text>
<path d="M72.70,273.9 h16.35" stroke="#ff8000" stroke-width="2"/>
<path d="M129.00,273.9 h16.35" stroke="#0000ff" stroke-width="2"/>
<path d="M201.70,273.9 h16.35" stroke="#ff00ff" stroke-width="2"/>
<path d="M274.35,273.9 h16.35" stroke="#ff0000" stroke-width="2"/>
<text x="99.0" y="278.2" letter-spacing="0.4" font-size="17" font-style="italic" fill="#000">γγ</text>
<text y="278.2" font-size="17" font-style="italic" fill="#000"><tspan x="155.20">e</tspan><tspan x="163.40" dy="-5.3" font-size="11.5" font-style="normal">+</tspan><tspan x="172.40" dy="5.3">e</tspan><tspan x="181.00" dy="-5.3" font-size="11.5" font-style="normal">−</tspan></text>
<text y="278.2" font-size="17" font-style="italic" fill="#000"><tspan x="227.70">μ</tspan><tspan x="236.00" dy="-5.3" font-size="11.5" font-style="normal">+</tspan><tspan x="245.10" dy="5.3">μ</tspan><tspan x="253.80" dy="-5.3" font-size="11.5" font-style="normal">−</tspan></text>
<text y="278.2" font-size="17" font-style="italic" fill="#000"><tspan x="300.00">π</tspan><tspan x="311.85" dy="-5.3" font-size="11.5" font-style="normal">+</tspan><tspan x="320.80" dy="5.3">π</tspan><tspan x="332.90" dy="-5.3" font-size="11.5" font-style="normal">−</tspan></text>

</svg>
</body></html>
